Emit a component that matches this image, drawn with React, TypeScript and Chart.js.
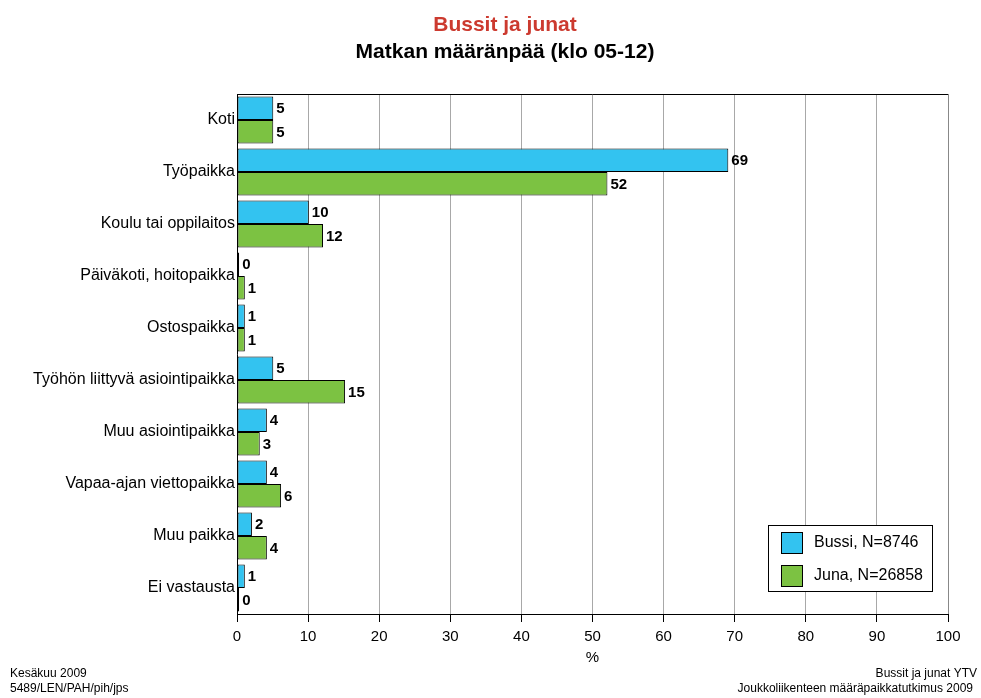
import React, { useEffect, useRef } from "react";
import { Chart, registerables } from "chart.js";

Chart.register(...registerables);

const categories = [
  "Koti",
  "Työpaikka",
  "Koulu tai oppilaitos",
  "Päiväkoti, hoitopaikka",
  "Ostospaikka",
  "Työhön liittyvä asiointipaikka",
  "Muu asiointipaikka",
  "Vapaa-ajan viettopaikka",
  "Muu paikka",
  "Ei vastausta",
];
const bussi = [5.1, 69.1, 10.1, 0.3, 1.1, 5.1, 4.2, 4.2, 2.1, 1.1];
const juna = [5.1, 52.1, 12.1, 1.1, 1.1, 15.2, 3.2, 6.2, 4.2, 0.3];
const bussiLabels = [5, 69, 10, 0, 1, 5, 4, 4, 2, 1];
const junaLabels = [5, 52, 12, 1, 1, 15, 3, 6, 4, 0];
const seriesNames = ["Bussi, N=8746", "Juna, N=26858"];
const title1 = "Bussit ja junat";
const title2 = "Matkan määränpää (klo 05-12)";
const footLeft = ["Kesäkuu 2009", "5489/LEN/PAH/pih/jps"];
const footRight = ["Bussit ja junat YTV", "Joukkoliikenteen määräpaikkatutkimus 2009"];

const FONT = "'Liberation Sans', Arial, Helvetica, sans-serif";
const BLUE = "#33c3f0";
const GREEN = "#7cc242";

export default function App() {
  const ref = useRef<HTMLCanvasElement | null>(null);
  useEffect(() => {
    if (!ref.current) return;
    const labelSets = [bussiLabels, junaLabels];
    const decor = {
      id: "decor",
      beforeDraw(chart: any) {
        const ctx = chart.ctx;
        ctx.save();
        ctx.fillStyle = "#fff";
        ctx.fillRect(0, 0, chart.width, chart.height);
        ctx.restore();
      },
      afterDatasetsDraw(chart: any) {
        const ctx = chart.ctx;
        const ca = chart.chartArea;
        ctx.save();
        // frame top and right
        ctx.strokeStyle = "#000";
        ctx.lineWidth = 1;
        ctx.beginPath();
        ctx.moveTo(ca.left, ca.top + 0.5);
        ctx.lineTo(ca.right, ca.top + 0.5);
        ctx.stroke();
        ctx.strokeStyle = "#888";
        ctx.beginPath();
        ctx.moveTo(ca.right + 0.5, ca.top);
        ctx.lineTo(ca.right + 0.5, ca.bottom);
        ctx.stroke();
        // data labels
        ctx.fillStyle = "#000";
        ctx.font = `bold 15px ${FONT}`;
        ctx.textBaseline = "middle";
        ctx.textAlign = "left";
        chart.data.datasets.forEach((_ds: any, di: number) => {
          const meta = chart.getDatasetMeta(di);
          meta.data.forEach((el: any, i: number) => {
            ctx.fillText(String(labelSets[di][i]), el.x + 3, el.y + 1);
          });
        });
        // legend
        const lx = 768, ly = 525, lw = 164, lh = 66;
        ctx.fillStyle = "#fff";
        ctx.fillRect(lx, ly, lw, lh);
        ctx.strokeStyle = "#000";
        ctx.strokeRect(lx + 0.5, ly + 0.5, lw, lh);
        ctx.font = `16px ${FONT}`;
        chart.data.datasets.forEach((ds: any, di: number) => {
          const sy = ly + 7 + di * 33;
          ctx.fillStyle = ds.backgroundColor;
          ctx.fillRect(lx + 13, sy, 21, 21);
          ctx.strokeStyle = "#000";
          ctx.strokeRect(lx + 13.5, sy + 0.5, 21, 21);
          ctx.fillStyle = "#000";
          ctx.fillText(ds.label, lx + 46, sy + 11);
        });
        // titles
        ctx.textAlign = "center";
        ctx.font = `bold 21px ${FONT}`;
        ctx.fillStyle = "#cc3a2f";
        ctx.fillText(title1, 505, 25);
        ctx.fillStyle = "#000";
        ctx.fillText(title2, 505, 52);
        // footers
        ctx.font = `12px ${FONT}`;
        ctx.textAlign = "left";
        ctx.fillText(footLeft[0], 10, 674);
        ctx.fillText(footLeft[1], 10, 689);
        ctx.textAlign = "right";
        ctx.fillText(footRight[0], 977, 674);
        ctx.fillText(footRight[1], 973, 689);
        ctx.restore();
      },
    };
    const chart = new Chart(ref.current, {
      type: "bar",
      data: {
        labels: categories,
        datasets: [
          {
            label: seriesNames[0],
            data: bussi,
            backgroundColor: BLUE,
            borderColor: "#000",
            borderWidth: 1,
            borderSkipped: false,
          },
          {
            label: seriesNames[1],
            data: juna,
            backgroundColor: GREEN,
            borderColor: "#000",
            borderWidth: 1,
            borderSkipped: false,
          },
        ],
      },
      options: {
        indexAxis: "y",
        animation: false,
        responsive: false,
        devicePixelRatio: 1,
        layout: { padding: { left: 0, top: 94, right: 33, bottom: 0 } },
        datasets: { bar: { categoryPercentage: 0.9, barPercentage: 1 } },
        plugins: {
          legend: { display: false },
          tooltip: { enabled: false },
          title: { display: false },
        },
        scales: {
          x: {
            min: 0,
            max: 100,
            afterFit: (s: any) => {
              s.height = 84;
            },
            ticks: {
              stepSize: 10,
              color: "#000",
              font: { family: FONT, size: 15 },
              padding: 6,
              maxRotation: 0,
            },
            grid: {
              color: "#a8a8a8",
              tickColor: "#000",
              tickLength: 8,
              lineWidth: 1,
            },
            border: { display: true, color: "#000", width: 1 },
            title: {
              display: true,
              text: "%",
              color: "#000",
              font: { family: FONT, size: 15 },
              padding: { top: 0, bottom: 31 },
            },
          },
          y: {
            afterFit: (s: any) => {
              s.width = 237;
            },
            ticks: {
              color: "#000",
              font: { family: FONT, size: 16 },
              padding: 2,
              autoSkip: false,
            },
            grid: { display: false, drawTicks: false },
            border: { display: true, color: "#000", width: 1 },
          },
        },
      },
      plugins: [decor],
    });
    return () => chart.destroy();
  }, []);
  return (
    <div style={{ position: "absolute", left: 0, top: 0, width: 981, height: 698 }}>
      <canvas ref={ref} width={981} height={698} style={{ width: 981, height: 698 }} />
    </div>
  );
}
